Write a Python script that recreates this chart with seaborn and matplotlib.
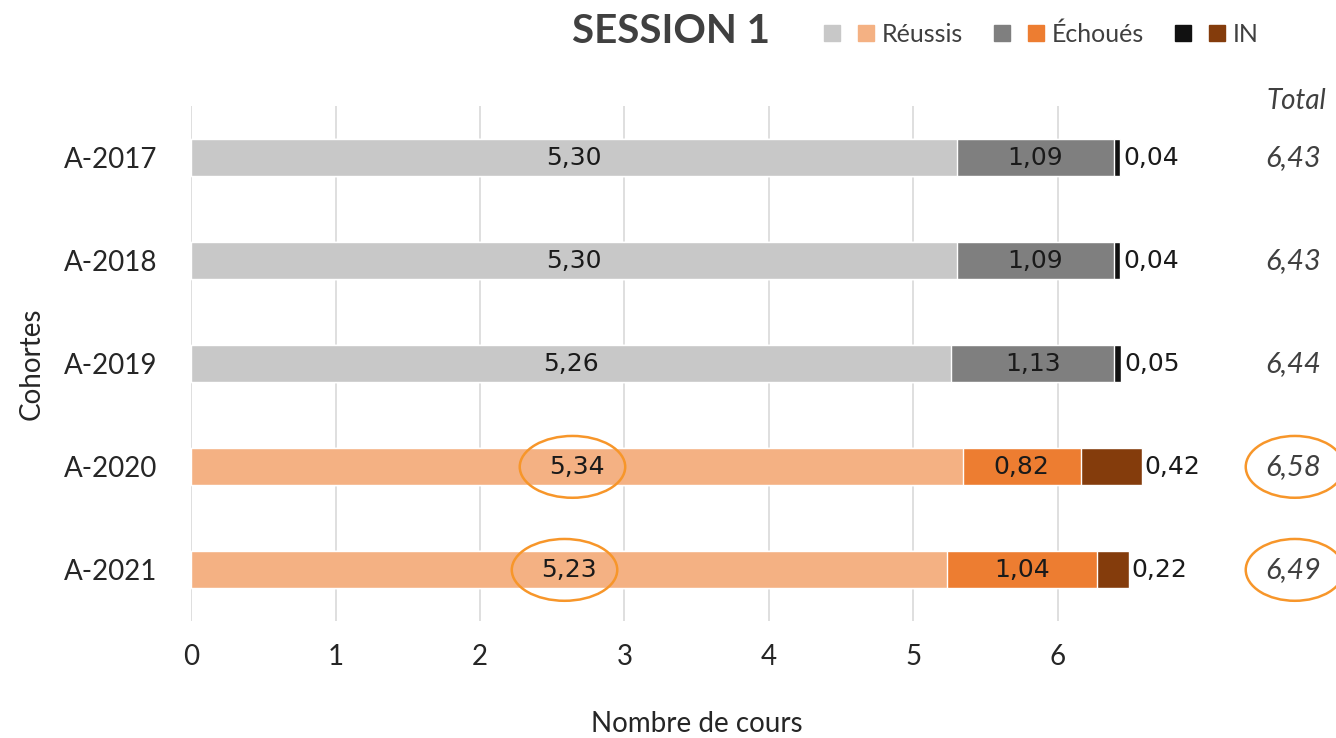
import matplotlib
matplotlib.use("Agg")
import matplotlib.pyplot as plt
import seaborn as sns
import pandas as pd
from matplotlib.patches import Patch, Ellipse
from matplotlib.legend_handler import HandlerTuple

# data
cohortes = ["A-2017", "A-2018", "A-2019", "A-2020", "A-2021"]
reussis = [5.30, 5.30, 5.26, 5.34, 5.23]
echoues = [1.09, 1.09, 1.13, 0.82, 1.04]
inc = [0.04, 0.04, 0.05, 0.42, 0.22]
totaux = [6.43, 6.43, 6.44, 6.58, 6.49]
circled = ["A-2020", "A-2021"]

df = pd.DataFrame({"Cohorte": cohortes, "Reussis": reussis,
                   "Echoues": echoues, "IN": inc, "Total": totaux})
df["cum2"] = df["Reussis"] + df["Echoues"]
df["cum3"] = df["cum2"] + df["IN"]

# grey for the older cohorts, orange for the covid ones
pal_r = ["#C8C8C8"] * 3 + ["#F4B183"] * 2
pal_e = ["#7F7F7F"] * 3 + ["#ED7D31"] * 2
pal_i = ["#111111"] * 3 + ["#843C0C"] * 2

sns.set_theme(style="white")
plt.rcParams["font.family"] = ["Lato", "DejaVu Sans"]

fig = plt.figure(figsize=(13.36, 7.38), dpi=100)
ax = fig.add_axes([0.143, 0.158, 0.757, 0.698])

# stacked bars drawn as overlapping cumulative bars
bw = 0.36
sns.barplot(data=df, x="cum3", y="Cohorte", hue="Cohorte", palette=pal_i,
            legend=False, width=bw, orient="h", ax=ax, saturation=1)
sns.barplot(data=df, x="cum2", y="Cohorte", hue="Cohorte", palette=pal_e,
            legend=False, width=bw, orient="h", ax=ax, saturation=1)
sns.barplot(data=df, x="Reussis", y="Cohorte", hue="Cohorte", palette=pal_r,
            legend=False, width=bw, orient="h", ax=ax, saturation=1)

def fmt(v):
    return f"{v:.2f}".replace(".", ",")

lab_font = dict(family="DejaVu Sans", fontsize=18, color="#1a1a1a", va="center")
for i, row in df.iterrows():
    ax.text(row["Reussis"] / 2, i, fmt(row["Reussis"]), ha="center", **lab_font)
    ax.text(row["Reussis"] + row["Echoues"] / 2, i, fmt(row["Echoues"]), ha="center", **lab_font)
    ax.text(row["cum3"] + 0.02, i, fmt(row["IN"]), ha="left", **lab_font)
    ax.text(7.63, i, fmt(row["Total"]), ha="center", va="center", fontsize=21,
            style="italic", color="#404040")
    if row["Cohorte"] in circled:
        ax.add_patch(Ellipse((row["Reussis"] / 2 - 0.03, i), 0.73, 0.6, fill=False,
                             ec="#F7962A", lw=1.8, clip_on=False, zorder=5))
        ax.add_patch(Ellipse((7.64, i), 0.68, 0.6, fill=False,
                             ec="#F7962A", lw=1.8, clip_on=False, zorder=5))

ax.text(7.65, -0.55, "Total", ha="center", va="center", fontsize=20,
        style="italic", color="#404040")

ax.set_xlim(0, 7)
ax.set_ylim(4.5, -0.5)
ax.set_xticks(range(7))
ax.grid(axis="x", color="#D9D9D9", lw=1.2)
ax.set_axisbelow(True)
for s in ax.spines.values():
    s.set_visible(False)
ax.tick_params(axis="both", length=0, labelsize=20, labelcolor="#262626")
ax.tick_params(axis="x", pad=16)
ax.tick_params(axis="y", pad=24)
ax.set_xlabel("Nombre de cours", fontsize=20, color="#262626", labelpad=30)
ax.set_ylabel("Cohortes", fontsize=20, color="#262626", labelpad=14)

fig.text(0.502, 0.957, "SESSION 1", ha="center", va="center", fontsize=29,
         fontweight="bold", color="#404040")

handles = [(Patch(color=pal_r[0]), Patch(color=pal_r[-1])),
           (Patch(color=pal_e[0]), Patch(color=pal_e[-1])),
           (Patch(color=pal_i[0]), Patch(color=pal_i[-1]))]
fig.legend(handles, ["Réussis", "Échoués", "IN"],
           handler_map={tuple: HandlerTuple(ndivide=None, pad=0.72)},
           loc="center left", bbox_to_anchor=(0.604, 0.954), ncol=3, frameon=False,
           fontsize=18, handlelength=2.0, handleheight=0.65, handletextpad=0.3,
           columnspacing=1.25, borderpad=0.2, labelcolor="#404040")

fig.savefig("out.png", dpi=100)
